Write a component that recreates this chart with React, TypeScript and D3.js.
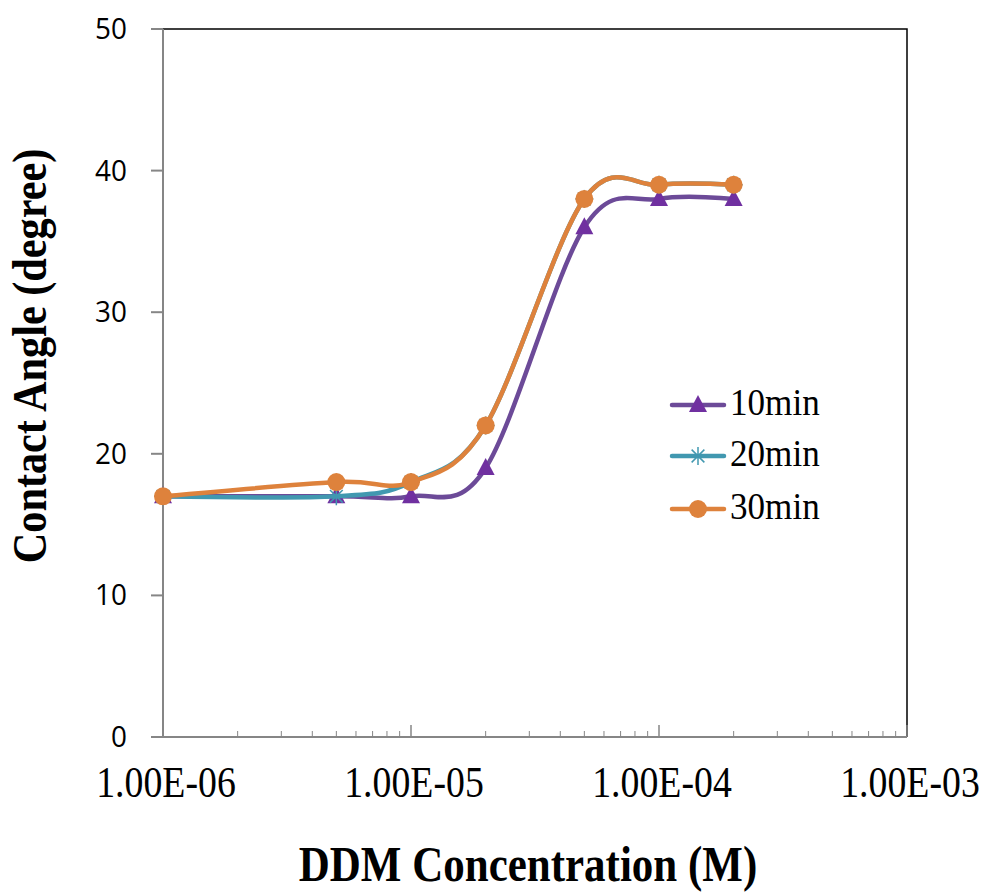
import React, { useEffect, useRef } from 'react';
import * as d3 from 'd3';

const concentrations = [1e-6, 5e-6, 1e-5, 2e-5, 5e-5, 1e-4, 2e-4];
const min10 = [17, 17, 17, 19, 36, 38, 38];
const min20 = [17, 17, 18, 22, 38, 39, 39];
const min30 = [17, 18, 18, 22, 38, 39, 39];
const xTicks = [1e-6, 1e-5, 1e-4, 1e-3];
const xTickLabels = ['1.00E-06', '1.00E-05', '1.00E-04', '1.00E-03'];
const yTicks = [0, 10, 20, 30, 40, 50];

const series = [
  { name: '10min', values: min10, line: '#6C4A98', marker: '#7030A0', shape: 'triangle' },
  { name: '20min', values: min20, line: '#4198B0', marker: '#4198B0', shape: 'star' },
  { name: '30min', values: min30, line: '#DE823C', marker: '#DE823C', shape: 'circle' },
];

const serif = 'Liberation Serif, Times New Roman, serif';
const sans = 'Open Sans, sans-serif';

const App = () => {
  const ref = useRef<SVGSVGElement>(null);

  useEffect(() => {
    const width = 981;
    const height = 892;
    const left = 163, right = 907, top = 29, bottom = 737;
    const svg = d3.select(ref.current);
    svg.selectAll('*').remove();

    const x = d3.scaleLog().domain([1e-6, 1e-3]).range([left, right]);
    const y = d3.scaleLinear().domain([0, 50]).range([bottom, top]);
    const axisColor = '#868686';

    // text squeezed horizontally, like the original export
    const addText = (tx: number, ty: number, str: string, size: number, sx: number,
      family: string, anchor = 'start', weight = 'normal', rotate = 0) => {
      svg.append('g')
        .attr('transform', `translate(${tx},${ty}) rotate(${rotate}) scale(${sx},1)`)
        .append('text')
        .attr('text-anchor', anchor)
        .attr('font-family', family)
        .attr('font-size', size)
        .attr('font-weight', weight)
        .text(str);
    };

    svg.append('rect').attr('width', width).attr('height', height).attr('fill', 'white');

    // plot area border (top / right)
    svg.append('path')
      .attr('d', `M${left},${top}H${right}V${bottom}`)
      .attr('fill', 'none').attr('stroke', 'black').attr('stroke-width', 1.5);

    // y axis
    svg.append('line').attr('x1', left).attr('x2', left).attr('y1', top).attr('y2', bottom)
      .attr('stroke', axisColor).attr('stroke-width', 2);
    yTicks.forEach(t => {
      svg.append('line').attr('x1', left - 12).attr('x2', left).attr('y1', y(t)).attr('y2', y(t))
        .attr('stroke', axisColor).attr('stroke-width', 2);
      addText(127, y(t) + 10, String(t), 30, 0.93, sans, 'end');
    });

    // x axis
    svg.append('line').attr('x1', left - 12).attr('x2', right).attr('y1', bottom).attr('y2', bottom)
      .attr('stroke', axisColor).attr('stroke-width', 2);
    for (let e = -6; e < -3; e++) {
      for (let m = 2; m <= 9; m++) {
        const v = m * Math.pow(10, e);
        svg.append('line').attr('x1', x(v)).attr('x2', x(v)).attr('y1', bottom).attr('y2', bottom - 6)
          .attr('stroke', axisColor).attr('stroke-width', 1);
      }
    }
    xTicks.forEach((t, i) => {
      svg.append('line').attr('x1', x(t)).attr('x2', x(t)).attr('y1', bottom).attr('y2', bottom - 12)
        .attr('stroke', axisColor).attr('stroke-width', 1.5);
      addText(x(t) + 3, 797, xTickLabels[i], 45, 0.84, serif, 'middle');
    });

    // axis titles
    addText(528, 881, 'DDM Concentration (M)', 50, 0.86, serif, 'middle', 'bold');
    addText(46, 356, 'Contact Angle (degree)', 48, 0.88, serif, 'middle', 'bold', -90);

    const line = d3.line<number>()
      .x((_, i) => x(concentrations[i]))
      .y(d => y(d))
      .curve(d3.curveCardinal.tension(0));

    const drawMarker = (g: any, shape: string, color: string, cx: number, cy: number) => {
      if (shape === 'triangle') {
        g.append('path').attr('d', `M${cx},${cy - 10}L${cx + 9},${cy + 7}L${cx - 9},${cy + 7}Z`).attr('fill', color);
      } else if (shape === 'circle') {
        g.append('circle').attr('cx', cx).attr('cy', cy).attr('r', 9).attr('fill', color);
      } else {
        const r = 9;
        [0, 45, 90, 135].forEach(a => {
          const rad = (a * Math.PI) / 180;
          g.append('line')
            .attr('x1', cx - r * Math.cos(rad)).attr('y1', cy - r * Math.sin(rad))
            .attr('x2', cx + r * Math.cos(rad)).attr('y2', cy + r * Math.sin(rad))
            .attr('stroke', color).attr('stroke-width', 1.5);
        });
      }
    };

    series.forEach(s => {
      const g = svg.append('g');
      g.append('path').attr('d', line(s.values)).attr('fill', 'none')
        .attr('stroke', s.line).attr('stroke-width', 4.5).attr('stroke-linecap', 'round');
      s.values.forEach((v, i) => drawMarker(g, s.shape, s.marker, x(concentrations[i]), y(v)));
    });

    // legend
    const legendY = [405, 456, 509];
    series.forEach((s, i) => {
      const g = svg.append('g');
      const ly = legendY[i];
      g.append('line').attr('x1', 672).attr('x2', 724).attr('y1', ly).attr('y2', ly)
        .attr('stroke', s.line).attr('stroke-width', 4.5).attr('stroke-linecap', 'round');
      drawMarker(g, s.shape, s.marker, 698, ly);
      addText(730, ly + 10, s.name, 39, 0.9, serif);
    });
  }, []);

  return (
    <svg ref={ref} width={981} height={892} style={{ position: 'absolute', left: 0, top: 0 }} />
  );
};

export default App;
